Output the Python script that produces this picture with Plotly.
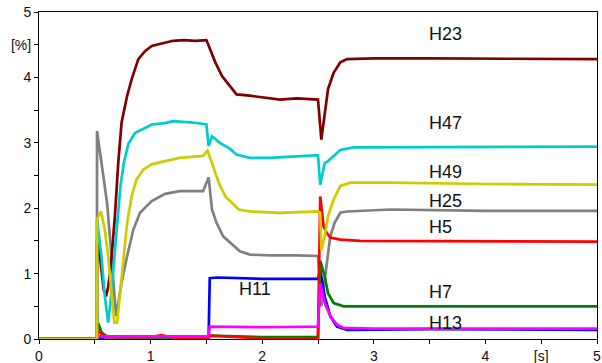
import plotly.graph_objects as go

# ---- data (time [s], value [%]) ----
t_h23 = [0, 0.52, 0.52, 0.55, 0.58, 0.60, 0.62, 0.64, 0.66, 0.68, 0.71, 0.74, 0.79, 0.83, 0.89, 0.95, 1.01, 1.10, 1.20, 1.30, 1.40, 1.50, 1.53, 1.58, 1.64, 1.71, 1.77, 1.89, 2.01, 2.16, 2.31, 2.50, 2.53, 2.56, 2.59, 2.64, 2.70, 2.76, 3.0, 3.5, 4.0, 4.5, 5.0]
v_h23 = [0, 0, 1.50, 1.20, 0.75, 0.65, 0.80, 1.06, 1.45, 1.88, 2.69, 3.31, 3.72, 3.97, 4.28, 4.40, 4.48, 4.52, 4.56, 4.57, 4.56, 4.57, 4.43, 4.23, 4.02, 3.87, 3.74, 3.72, 3.69, 3.66, 3.68, 3.66, 3.05, 3.41, 3.82, 4.07, 4.23, 4.28, 4.29, 4.29, 4.29, 4.29, 4.28]

t_h47 = [0, 0.52, 0.52, 0.56, 0.59, 0.62, 0.64, 0.67, 0.70, 0.73, 0.76, 0.80, 0.86, 0.95, 1.01, 1.13, 1.20, 1.38, 1.50, 1.52, 1.55, 1.62, 1.71, 1.77, 1.89, 2.07, 2.31, 2.50, 2.52, 2.56, 2.59, 2.64, 2.70, 2.82, 3.2, 4.0, 5.0]
v_h47 = [0, 0, 1.83, 1.26, 0.65, 0.25, 0.55, 1.16, 1.83, 2.34, 2.69, 2.98, 3.15, 3.23, 3.28, 3.30, 3.33, 3.31, 3.28, 2.95, 3.10, 3.00, 2.91, 2.82, 2.77, 2.77, 2.79, 2.81, 2.36, 2.69, 2.72, 2.80, 2.89, 2.93, 2.93, 2.93, 2.94]

t_h49 = [0, 0.52, 0.52, 0.555, 0.59, 0.62, 0.65, 0.675, 0.70, 0.725, 0.755, 0.79, 0.83, 0.875, 0.935, 1.01, 1.13, 1.26, 1.47, 1.51, 1.55, 1.61, 1.67, 1.73, 1.79, 1.89, 2.16, 2.50, 2.52, 2.53, 2.56, 2.59, 2.64, 2.70, 2.79, 3.15, 4.0, 5.0]
v_h49 = [0, 0, 1.83, 1.95, 1.67, 1.26, 0.70, 0.25, 0.25, 0.70, 1.26, 1.78, 2.18, 2.44, 2.59, 2.67, 2.72, 2.77, 2.80, 2.88, 2.69, 2.39, 2.18, 2.08, 1.98, 1.95, 1.93, 1.95, 1.93, 1.35, 1.57, 1.88, 2.13, 2.34, 2.39, 2.39, 2.37, 2.36]

t_h25 = [0, 0.52, 0.52, 0.56, 0.61, 0.64, 0.67, 0.69, 0.71, 0.74, 0.79, 0.845, 0.905, 1.01, 1.13, 1.26, 1.47, 1.52, 1.55, 1.59, 1.65, 1.73, 1.80, 1.89, 2.07, 2.31, 2.50, 2.53, 2.56, 2.58, 2.61, 2.65, 2.70, 2.76, 3.15, 4.0, 5.0]
v_h25 = [0, 0, 3.18, 2.69, 2.08, 1.47, 0.86, 0.35, 0.55, 0.86, 1.27, 1.67, 1.93, 2.11, 2.22, 2.26, 2.26, 2.47, 1.98, 1.78, 1.57, 1.45, 1.34, 1.29, 1.28, 1.28, 1.27, 0.50, 0.90, 1.16, 1.57, 1.78, 1.93, 1.95, 1.98, 1.96, 1.96]

t_h5 = [0, 0.52, 0.53, 0.60, 1.00, 1.10, 1.20, 1.52, 1.53, 2.00, 2.50, 2.52, 2.55, 2.58, 2.61, 2.70, 2.88, 3.5, 4.0, 5.0]
v_h5 = [0, 0, 0.12, 0.03, 0.03, 0.06, 0.02, 0.02, 0.05, 0.01, 0.01, 2.18, 1.72, 1.62, 1.55, 1.52, 1.50, 1.50, 1.49, 1.49]

t_h11 = [0, 0.52, 0.60, 1.52, 1.53, 1.60, 2.00, 2.50, 2.52, 2.56, 2.61, 2.67, 2.76, 3.5, 5.0]
v_h11 = [0, 0, 0.03, 0.03, 0.93, 0.94, 0.92, 0.92, 1.06, 0.65, 0.35, 0.19, 0.14, 0.15, 0.14]

t_h13 = [0, 0.52, 0.53, 1.00, 1.52, 1.53, 2.00, 2.50, 2.52, 2.56, 2.61, 2.67, 2.73, 3.0, 5.0]
v_h13 = [0, 0, 0.04, 0.04, 0.04, 0.19, 0.18, 0.19, 0.85, 0.55, 0.35, 0.22, 0.17, 0.16, 0.16]

t_h7 = [0, 0.52, 0.53, 0.56, 0.60, 0.70, 1.52, 1.53, 2.00, 2.50, 2.52, 2.56, 2.59, 2.64, 2.73, 3.15, 4.0, 5.0]
v_h7 = [0, 0, 0.24, 0.10, 0.05, 0.03, 0.02, 0.05, 0.03, 0.03, 1.20, 0.96, 0.70, 0.55, 0.50, 0.50, 0.49, 0.50]

# label names and positions (data units)
label_names = ["H23", "H47", "H49", "H25", "H5", "H11", "H7", "H13"]
label_x = [3.497, 3.497, 3.497, 3.497, 3.497, 1.792, 3.497, 3.497]
label_y = [4.67, 3.30, 2.555, 2.11, 1.72, 0.77, 0.716, 0.245]

x_tickvals = [0, 0.5, 1, 1.5, 2, 2.5, 3, 3.5, 4, 4.5, 5]
x_ticktext = ["0", "", "1", "", "2", "", "3", "", "4", "[s]", "5"]
y_tickvals = [0, 0.5, 1, 1.5, 2, 2.5, 3, 3.5, 4, 4.5, 5]
y_ticktext = ["0", "", "1", "", "2", "", "3", "", "4", "[%]", "5"]

series = [
    ("H25", t_h25, v_h25, "#808080"),
    ("H23", t_h23, v_h23, "#800000"),
    ("H47", t_h47, v_h47, "#00CCCC"),
    ("H11", t_h11, v_h11, "#0000FF"),
    ("H7", t_h7, v_h7, "#008000"),
    ("H5", t_h5, v_h5, "#FF0000"),
    ("H13", t_h13, v_h13, "#FF00FF"),
    ("H49", t_h49, v_h49, "#CCCC00"),
]

fig = go.Figure()
for name, t, v, c in series:
    fig.add_trace(go.Scatter(x=t, y=v, mode="lines", name=name,
                             line=dict(color=c, width=2.7), showlegend=False))

for n, lx, ly in zip(label_names, label_x, label_y):
    fig.add_annotation(x=lx, y=ly, text=n, showarrow=False, xanchor="left",
                       yanchor="middle", xshift=-2,
                       font=dict(family="Liberation Sans, Arial", size=18, color="#111111"))

axis_common = dict(showgrid=False, zeroline=False, showline=True, linecolor="black",
                   linewidth=1, mirror=True, ticks="outside", ticklen=4,
                   tickcolor="black",
                   tickfont=dict(family="Liberation Sans, Arial", size=14, color="#111111"))

fig.update_xaxes(range=[0, 5], tickmode="array", tickvals=x_tickvals,
                 ticktext=x_ticktext, **axis_common)
fig.update_yaxes(range=[0, 5], tickmode="array", tickvals=y_tickvals,
                 ticktext=y_ticktext, **axis_common)

fig.update_layout(width=602, height=363, margin=dict(l=39, r=5, t=12, b=24, autoexpand=False),
                  plot_bgcolor="white", paper_bgcolor="white")

fig.write_html("out.html", config={"displayModeBar": False},
               post_script="document.body.style.margin='0';document.body.style.overflow='hidden';")
